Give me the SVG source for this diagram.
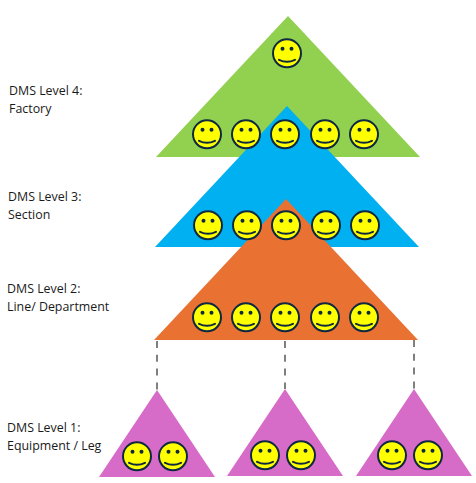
<svg xmlns="http://www.w3.org/2000/svg" width="476" height="483" viewBox="0 0 476 483">
<style>
text{font-family:"Open Sans","Liberation Sans",sans-serif;font-size:12.4px;fill:#1a1a1a}
.g{fill:#92d050}.b{fill:#00b0f0}.o{fill:#e97132}.p{fill:#d76cc8}
.c{fill:none;stroke:#7f7f7f;stroke-width:2;stroke-dasharray:7 6.8}
.f{fill:#ffff00;stroke:#0e2841;stroke-width:2}
.e{fill:#0e2841}
.m{fill:none;stroke:#0e2841;stroke-width:2;stroke-linecap:round}
</style>
<defs>
<g id="smiley">
<circle class="f" cx="0" cy="0" r="14"/>
<circle class="e" cx="-4.5" cy="-4.5" r="2"/>
<circle class="e" cx="4.5" cy="-4.5" r="2"/>
<path class="m" d="M-8 6.5Q0 10.5 8 6.5"/>
</g>
</defs>
<rect width="476" height="483" fill="#fff"/>
<g id="level4"><polygon class="g" points="288,16 420,157 156,157"/></g>
<g id="level3"><polygon class="b" points="287,106 419,247 155,247"/></g>
<g id="level2"><polygon class="o" points="286,199 418,340 154,340"/></g>
<g id="connectors">
<line class="c" x1="157" y1="341" x2="157" y2="390"/>
<line class="c" x1="285" y1="341" x2="285" y2="389"/>
<line class="c" x1="414" y1="340" x2="414" y2="389"/>
</g>
<g id="leg1"><polygon class="p" points="157,390 215,477 99,477"/><use href="#smiley" x="137" y="456.3"/><use href="#smiley" x="173" y="456.3"/></g>
<g id="leg2"><polygon class="p" points="285,389 343,476 227,476"/><use href="#smiley" x="265" y="455.3"/><use href="#smiley" x="301" y="455.3"/></g>
<g id="leg3"><polygon class="p" points="414,389 472,476 356,476"/><use href="#smiley" x="392" y="455.3"/><use href="#smiley" x="428" y="455.3"/></g>
<g id="level4-people"><use href="#smiley" x="287" y="53.3"/><use href="#smiley" x="207" y="134.3"/><use href="#smiley" x="246" y="134.3"/><use href="#smiley" x="285" y="134.3"/><use href="#smiley" x="325" y="134.3"/><use href="#smiley" x="364" y="134.3"/></g>
<g id="level3-people"><use href="#smiley" x="208" y="225.3"/><use href="#smiley" x="247" y="225.3"/><use href="#smiley" x="286" y="225.3"/><use href="#smiley" x="326" y="225.3"/><use href="#smiley" x="365" y="225.3"/></g>
<g id="level2-people"><use href="#smiley" x="207" y="317.3"/><use href="#smiley" x="246" y="317.3"/><use href="#smiley" x="285" y="317.3"/><use href="#smiley" x="325" y="317.3"/><use href="#smiley" x="364" y="317.3"/></g>
<g id="labels">
<text x="9" y="94.5">DMS Level 4:</text><text x="9" y="112.5">Factory</text>
<text x="8" y="200.5">DMS Level 3:</text><text x="8" y="218.5">Section</text>
<text x="7" y="292.5">DMS Level 2:</text><text x="7" y="310.5">Line/ Department</text>
<text x="7" y="431.5">DMS Level 1:</text><text x="7" y="449.5">Equipment / Leg</text>
</g>
</svg>
